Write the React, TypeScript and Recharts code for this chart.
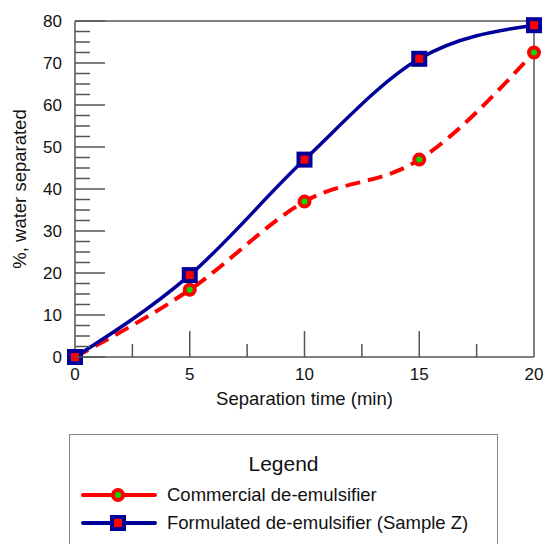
import { LineChart, Line, XAxis, YAxis, ReferenceLine } from 'recharts'

const times = [0, 5, 10, 15, 20]
const commercial = [0, 16, 37, 47, 72.5]
const formulated = [0, 19.5, 47, 71, 79]

const xTicks = [0, 2.5, 5, 7.5, 10, 12.5, 15, 17.5, 20]
const yTicks = [
  0, 2.5, 5, 7.5, 10, 12.5, 15, 17.5, 20, 22.5, 25, 27.5, 30, 32.5, 35, 37.5, 40,
  42.5, 45, 47.5, 50, 52.5, 55, 57.5, 60, 62.5, 65, 67.5, 70, 72.5, 75, 77.5, 80,
]

const data = times.map((t, i) => ({ t, commercial: commercial[i], formulated: formulated[i] }))

const FONT = '"Liberation Sans", Arial, Helvetica, sans-serif'
const AXIS = '#555'
const RED = '#ff0000'
const GREEN = '#00e000'
const NAVY = '#000099'

const PLOT_LEFT = 75
const PLOT_BOTTOM = 357

const YTick = ({ y, payload }: any) => {
  const v = payload.value
  const major = v % 10 === 0
  const len = major ? 30 : 15
  return (
    <g>
      <line x1={PLOT_LEFT} x2={PLOT_LEFT + len} y1={y} y2={y} stroke={AXIS} strokeWidth={1.5} />
      {major && (
        <text x={62} y={y} textAnchor="end" dominantBaseline="central" fontSize={17} fill="#111" fontFamily={FONT}>
          {v}
        </text>
      )}
    </g>
  )
}

const XTick = ({ x, payload }: any) => {
  const v = payload.value
  const major = v % 5 === 0
  const len = v === 0 || v === 20 ? 0 : major ? 26 : 13
  return (
    <g>
      {len > 0 && (
        <line x1={x} x2={x} y1={PLOT_BOTTOM} y2={PLOT_BOTTOM - len} stroke={AXIS} strokeWidth={1.5} />
      )}
      {major && (
        <text x={x} y={374} textAnchor="middle" dominantBaseline="central" fontSize={17} fill="#111" fontFamily={FONT}>
          {v}
        </text>
      )}
    </g>
  )
}

const SquareDot = ({ cx, cy }: any) => {
  if (cx == null || cy == null) return null
  return <rect x={cx - 6} y={cy - 6} width={12} height={12} fill={RED} stroke={NAVY} strokeWidth={4} />
}

function LegendSample({ kind }: { kind: 'circle' | 'square' }) {
  const color = kind === 'circle' ? RED : NAVY
  return (
    <svg width={76} height={18} style={{ display: 'block' }}>
      <line x1={2} x2={74} y1={9} y2={9} stroke={color} strokeWidth={4} strokeLinecap="round" />
      {kind === 'circle' ? (
        <circle cx={37} cy={9} r={5} fill={GREEN} stroke={RED} strokeWidth={4} />
      ) : (
        <rect x={31} y={3} width={12} height={12} fill={RED} stroke={NAVY} strokeWidth={4} />
      )}
    </svg>
  )
}

export default function App() {
  return (
    <div style={{ position: 'absolute', left: 0, top: 0, width: 545, height: 544, background: '#fff', overflow: 'hidden', fontFamily: FONT }}>
      <LineChart width={545} height={420} data={data} margin={{ top: 21, right: 11, left: 0, bottom: 15 }}>
        <XAxis
          dataKey="t"
          type="number"
          domain={[0, 20]}
          ticks={xTicks}
          interval={0}
          height={48}
          tickLine={false}
          tick={<XTick />}
          axisLine={{ stroke: AXIS, strokeWidth: 1.5 }}
          label={{ value: 'Separation time (min)', position: 'insideBottom', offset: 0, fontSize: 18.5, fill: '#111', fontFamily: FONT }}
        />
        <YAxis
          type="number"
          domain={[0, 80]}
          ticks={yTicks}
          interval={0}
          width={75}
          tickLine={false}
          tick={<YTick />}
          axisLine={{ stroke: AXIS, strokeWidth: 1.5 }}
          label={{
            value: '%, water separated',
            angle: -90,
            position: 'insideLeft',
            offset: 19,
            fontSize: 18.5,
            fill: '#111',
            fontFamily: FONT,
            style: { textAnchor: 'middle' },
          }}
        />
        <ReferenceLine y={80} stroke={AXIS} strokeWidth={1.5} />
        <ReferenceLine x={20} stroke={AXIS} strokeWidth={1.5} />
        <Line
          type="monotone"
          dataKey="commercial"
          stroke={RED}
          strokeWidth={4}
          strokeDasharray="15 8"
          dot={{ r: 5, fill: GREEN, stroke: RED, strokeWidth: 4, strokeDasharray: '' }}
          isAnimationActive={false}
        />
        <Line
          type="monotone"
          dataKey="formulated"
          stroke={NAVY}
          strokeWidth={3.5}
          dot={<SquareDot />}
          isAnimationActive={false}
        />
      </LineChart>
      <div
        style={{
          position: 'absolute',
          left: 69,
          top: 434,
          width: 429,
          height: 130,
          border: '1px solid #888',
          boxSizing: 'border-box',
        }}
      >
        <div style={{ position: 'absolute', left: 0, right: 0, top: 16, textAlign: 'center', fontSize: 21, lineHeight: '26px', color: '#111' }}>
          Legend
        </div>
        <div style={{ position: 'absolute', left: 11, top: 48, display: 'flex', alignItems: 'center', gap: 10 }}>
          <LegendSample kind="circle" />
          <span style={{ fontSize: 18.5, lineHeight: '24px', color: '#111' }}>Commercial de-emulsifier</span>
        </div>
        <div style={{ position: 'absolute', left: 11, top: 76, display: 'flex', alignItems: 'center', gap: 10 }}>
          <LegendSample kind="square" />
          <span style={{ fontSize: 18.5, lineHeight: '24px', color: '#111' }}>Formulated de-emulsifier (Sample Z)</span>
        </div>
      </div>
    </div>
  )
}
